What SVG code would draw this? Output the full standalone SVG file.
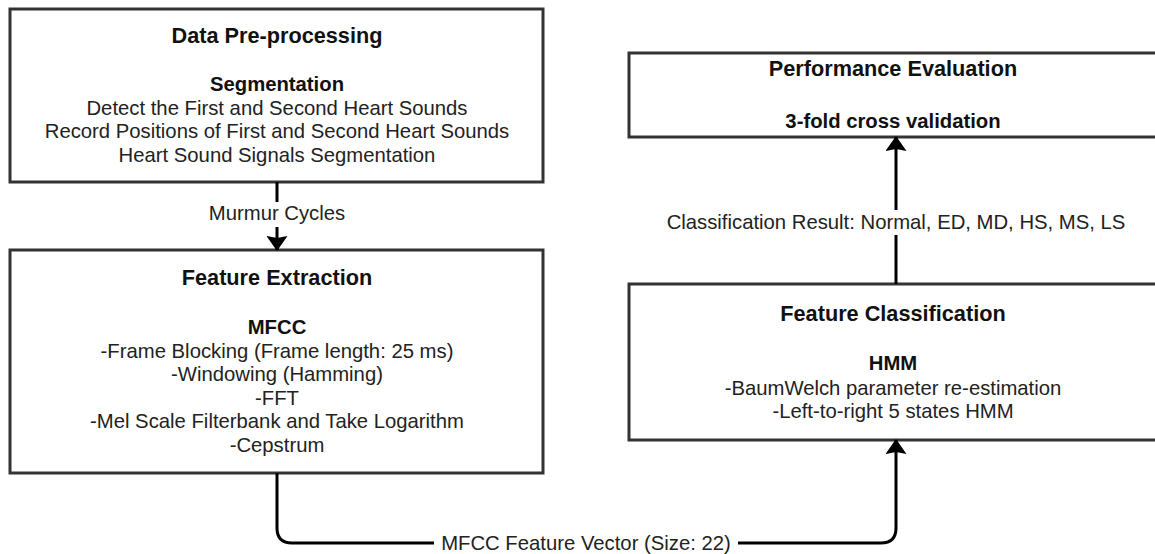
<svg xmlns="http://www.w3.org/2000/svg" width="1155" height="554" viewBox="0 0 1155 554">
<style>
.box{fill:#fff;stroke:#333;stroke-width:3}
text{font-family:"Liberation Sans",Arial,sans-serif;text-anchor:middle;fill:#222;font-size:20.3px}
.t{font-weight:bold;font-size:21.7px;fill:#111}
.s{font-weight:bold;fill:#111}
.c{fill:none;stroke:#000;stroke-width:3}
.lb{fill:#fff}
</style>
<defs>
<marker id="ah" viewBox="0 0 15 21" refX="14" refY="10.5" markerWidth="15" markerHeight="21" orient="auto" markerUnits="userSpaceOnUse">
<path d="M0,0 L15,10.5 L0,21 L2,10.5 z" fill="#000"/>
</marker>
</defs>
<rect width="1155" height="554" fill="#fff"/>
<g id="preprocessing">
<rect class="box" x="10" y="9" width="533" height="173"/>
<text class="t" x="277" y="43">Data Pre-processing</text>
<text class="s" x="277" y="91">Segmentation</text>
<text x="277" y="114.5">Detect the First and Second Heart Sounds</text>
<text x="277" y="138">Record Positions of First and Second Heart Sounds</text>
<text x="277" y="161.5">Heart Sound Signals Segmentation</text>
</g>
<g id="extraction">
<rect class="box" x="10" y="250" width="533" height="223"/>
<text class="t" x="277" y="285">Feature Extraction</text>
<text class="s" x="277" y="334">MFCC</text>
<text x="277" y="357.5">-Frame Blocking (Frame length: 25 ms)</text>
<text x="277" y="381">-Windowing (Hamming)</text>
<text x="277" y="404.5">-FFT</text>
<text x="277" y="428">-Mel Scale Filterbank and Take Logarithm</text>
<text x="277" y="451.5">-Cepstrum</text>
</g>
<g id="evaluation">
<rect class="box" x="629" y="53" width="532" height="84"/>
<text class="t" x="893" y="76">Performance Evaluation</text>
<text class="s" x="893" y="127.5">3-fold cross validation</text>
</g>
<g id="classification">
<rect class="box" x="629" y="284" width="532" height="156"/>
<text class="t" x="893" y="320.5">Feature Classification</text>
<text class="s" x="893" y="370">HMM</text>
<text x="893" y="394.5">-BaumWelch parameter re-estimation</text>
<text x="893" y="418">-Left-to-right 5 states HMM</text>
</g>
<g id="connectors">
<path class="c" d="M277,182 L277,250" marker-end="url(#ah)"/>
<rect class="lb" x="206" y="202" width="142" height="25"/>
<text x="277" y="220">Murmur Cycles</text>
<path class="c" d="M896,284 L896,137" marker-end="url(#ah)"/>
<rect class="lb" x="660" y="210" width="472" height="25"/>
<text x="896" y="229">Classification Result: Normal, ED, MD, HS, MS, LS</text>
<path class="c" d="M277,473 L277,528 Q277,543 292,543 L881,543 Q896,543 896,528 L896,440" marker-end="url(#ah)"/>
<rect class="lb" x="434" y="530" width="304" height="24"/>
<text x="586" y="550">MFCC Feature Vector (Size: 22)</text>
</g>
</svg>
